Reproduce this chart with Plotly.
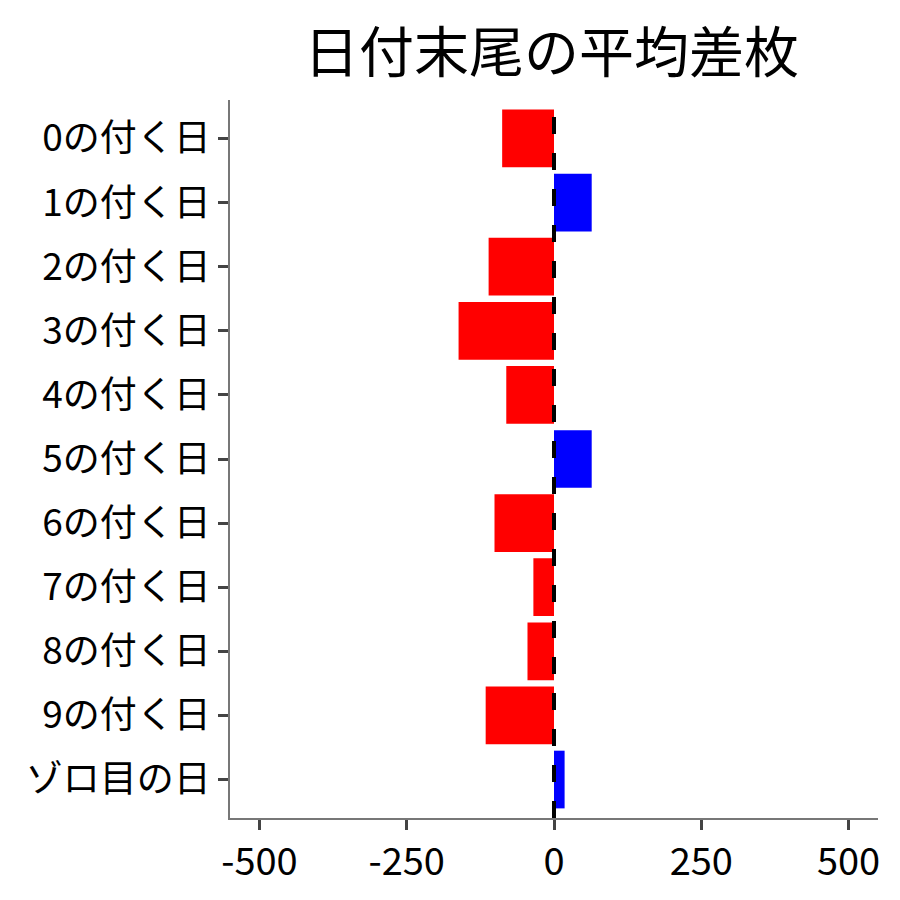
import plotly.graph_objects as go

# 日付末尾ごとの平均差枚
categories = ["0の付く日", "1の付く日", "2の付く日", "3の付く日", "4の付く日",
              "5の付く日", "6の付く日", "7の付く日", "8の付く日", "9の付く日", "ゾロ目の日"]
avg_diff = [-88, 64, -111, -162, -81, 64, -101, -35, -45, -116, 18]
x_ticks = [-500, -250, 0, 250, 500]

colors = ["#0000FF" if v > 0 else "#FF0000" for v in avg_diff]
font = "Noto Sans CJK JP"

fig = go.Figure()
fig.add_trace(go.Bar(
    x=avg_diff,
    y=categories,
    orientation="h",
    marker=dict(color=colors, line=dict(width=0)),
    width=0.9,
    showlegend=False,
))
fig.add_vline(x=0, line=dict(color="black", width=4, dash="17px,19px"))

fig.update_xaxes(
    range=[-550, 550],
    tickvals=x_ticks,
    ticktext=[str(t) for t in x_ticks],
    showgrid=False, zeroline=False,
    showline=True, linecolor="#777777", linewidth=1.5,
    ticks="outside", ticklen=10, tickwidth=3, tickcolor="#444444",
    tickfont=dict(family=font, size=38, color="black"),
)
fig.update_yaxes(
    categoryorder="array", categoryarray=categories,
    range=[len(categories) - 0.4, -0.6],
    showgrid=False, zeroline=False,
    showline=True, linecolor="#777777", linewidth=1.5,
    ticks="outside", ticklen=10, tickwidth=3, tickcolor="#444444",
    tickfont=dict(family=font, size=37, color="black"),
)
fig.update_layout(
    width=900, height=900,
    title=dict(text="日付末尾の平均差枚", x=0.604, xanchor="center",
               y=0.95, yanchor="middle",
               font=dict(family=font, size=55, color="black")),
    plot_bgcolor="white", paper_bgcolor="white",
    margin=dict(l=222, r=30, t=92, b=90),
    bargap=0.1,
)
fig.write_html("out.html")
